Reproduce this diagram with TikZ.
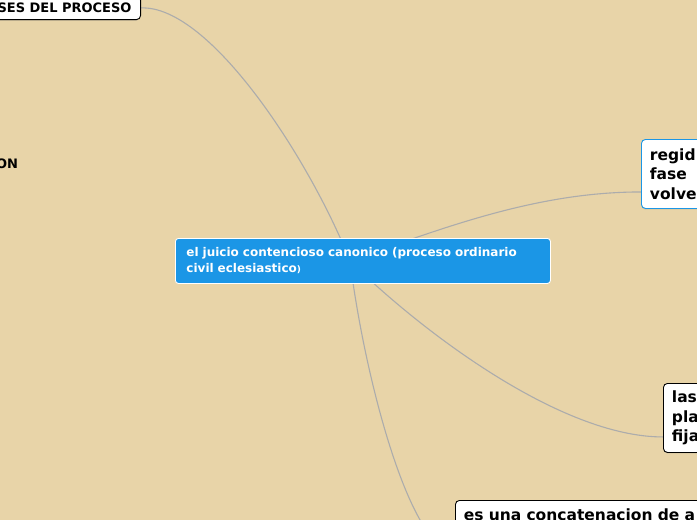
\documentclass[tikz,border=0pt]{standalone}
\usepackage{fontspec}
\setmainfont{DejaVu Sans}
\usetikzlibrary{shadows}
\definecolor{bgbeige}{RGB}{232,212,168}
\definecolor{rootblue}{RGB}{27,150,230}
\definecolor{linkgray}{RGB}{172,172,172}
\pgfdeclarelayer{bglayer}
\pgfdeclarelayer{links}
\pgfsetlayers{bglayer,links,main}
\begin{document}
\begin{tikzpicture}[x=1pt,y=-1pt,
  link/.style={draw=linkgray,line width=1.1pt},
  topic/.style={draw=black,fill=white,rounded corners=4pt,line width=0.9pt,
    font=\fontsize{15.5}{19.5}\selectfont\bfseries,align=left,
    inner xsep=8.5pt,inner ysep=0pt,minimum height=69pt,anchor=north west,
    drop shadow={shadow xshift=0pt,shadow yshift=-1pt,opacity=0.3}},
  roottopic/.style={draw=white,fill=rootblue,text=white,rounded corners=3pt,line width=0.9pt,
    font=\fontsize{12}{16}\selectfont\bfseries,align=left,text width=353pt,
    inner xsep=11pt,inner ysep=0pt,minimum height=45pt,anchor=north west},
  captopic/.style={font=\fontsize{13}{16}\selectfont\bfseries}
]
\useasboundingbox (0,0) rectangle (697,520);
\clip (0,0) rectangle (697,520);
\begin{pgfonlayer}{bglayer}
\fill[bgbeige] (0,0) rectangle (697,520);
\end{pgfonlayer}

\node[roottopic] (root) at (175,238) {el juicio contencioso canonico (proceso ordinario\\civil eclesiastico{\fontsize{9}{16}\selectfont)}};

\node[topic,captopic,anchor=south east,minimum height=0pt,inner xsep=9pt,inner ysep=6.7pt] (tl) at (141,20) {SES DEL PROCESO};

\node[captopic,anchor=base east,inner sep=0pt] (on) at (18.3,168.3) {ON};

\node[topic,draw=rootblue,text width=90pt] (rt) at (641,139) {regid\\fase\\volve};

\node[topic,text width=90pt] (rb) at (663,383) {las\\pla\\fija};

\node[topic,text width=320pt,minimum height=0pt,inner ysep=8.5pt] (bn) at (455,500) {es una concatenacion de a};

\coordinate (hub) at (350,261);

\begin{pgfonlayer}{links}
\draw[link] (hub) .. controls (310,160) and (210,5) .. (tl.east);
\draw[link] (hub) .. controls (450,225) and (540,192) .. ([yshift=-18pt]rt.west);
\draw[link] (hub) .. controls (420,330) and (560,437) .. ([yshift=-19pt]rb.west);
\draw[link] (hub) .. controls (365,380) and (410,550) .. ([yshift=-38pt]bn.west);
\end{pgfonlayer}
\end{tikzpicture}
\end{document}
